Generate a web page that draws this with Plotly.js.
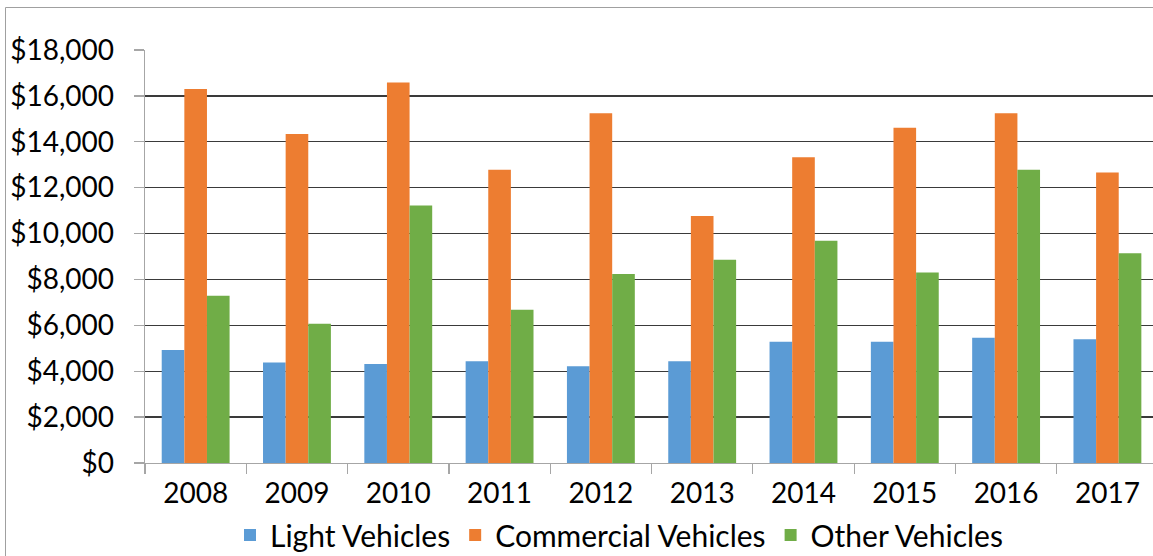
<!DOCTYPE html>
<html>
<head>
<meta charset="utf-8">
<script src="https://cdn.plot.ly/plotly-3.0.1.min.js"></script>
<style>
html,body{margin:0;padding:0;background:#fff;}
#chart{width:1153px;height:556px;}
</style>
</head>
<body>
<div id="chart"></div>
<script>
const years = ["2008","2009","2010","2011","2012","2013","2014","2015","2016","2017"];
const lightVehicles = [4930, 4380, 4320, 4440, 4220, 4440, 5280, 5280, 5460, 5390];
const commercialVehicles = [16300, 14340, 16580, 12780, 15240, 10770, 13330, 14610, 15240, 12660];
const otherVehicles = [7290, 6070, 11220, 6680, 8240, 8860, 9690, 8300, 12780, 9140];

const seriesNames = ["Light Vehicles", "Commercial Vehicles", "Other Vehicles"];
const seriesColors = ["#5B9BD5", "#ED7D31", "#70AD47"];
const seriesValues = [lightVehicles, commercialVehicles, otherVehicles];

const FONT = "Lato, 'Open Sans', sans-serif";

const traces = seriesValues.map((vals, i) => ({
  type: "bar",
  name: seriesNames[i],
  x: years,
  y: vals,
  marker: {color: seriesColors[i], line: {width: 0}},
  hoverinfo: "x+y+name"
}));

const L = 145, T = 50, W = 1008, H = 413;
const px = v => (v - L) / W;
const py = v => (T + H - v) / H;

const layout = {
  width: 1153,
  height: 556,
  margin: {l: L, r: 0, t: T, b: 556 - T - H, pad: 0, autoexpand: false},
  paper_bgcolor: "#ffffff",
  plot_bgcolor: "#ffffff",
  font: {family: FONT, size: 28, color: "#000000"},
  barmode: "group",
  bargap: 0.33,
  bargroupgap: 0,
  showlegend: true,
  legend: {
    orientation: "h",
    x: px(619),
    xanchor: "center",
    y: py(535),
    yanchor: "middle",
    font: {family: FONT, size: 30, color: "#000000"},
    itemwidth: 30,
    traceorder: "normal"
  },
  xaxis: {
    type: "category",
    range: [-0.5, 9.45],
    showline: true,
    linecolor: "#a6a6a6",
    linewidth: 1.3,
    ticks: "outside",
    tickson: "boundaries",
    ticklen: 10,
    tickcolor: "#a6a6a6",
    tickwidth: 1.3,
    showgrid: false,
    tickfont: {family: FONT, size: 28, color: "#000000"},
    ticklabelstandoff: 5,
    fixedrange: true
  },
  yaxis: {
    range: [0, 18000],
    dtick: 2000,
    tick0: 0,
    tickprefix: "$",
    tickformat: ",d",
    showline: true,
    linecolor: "#a6a6a6",
    linewidth: 1.3,
    ticks: "outside",
    ticklen: 10,
    tickcolor: "#a6a6a6",
    tickwidth: 1.3,
    showgrid: true,
    gridcolor: "#3a3a3a",
    gridwidth: 1.3,
    zeroline: false,
    tickfont: {family: FONT, size: 28, color: "#000000"},
    ticklabelstandoff: 14,
    fixedrange: true
  },
  shapes: [
    {type: "line", xref: "paper", yref: "paper", x0: px(5.5), x1: px(5.5), y0: py(7.5), y1: py(560), line: {color: "#a0a0a0", width: 1}},
    {type: "line", xref: "paper", yref: "paper", x0: px(5.5), x1: px(1160), y0: py(7.5), y1: py(7.5), line: {color: "#a0a0a0", width: 1}}
  ]
};

Plotly.newPlot("chart", traces, layout, {displayModeBar: false, staticPlot: true});
</script>
</body>
</html>
